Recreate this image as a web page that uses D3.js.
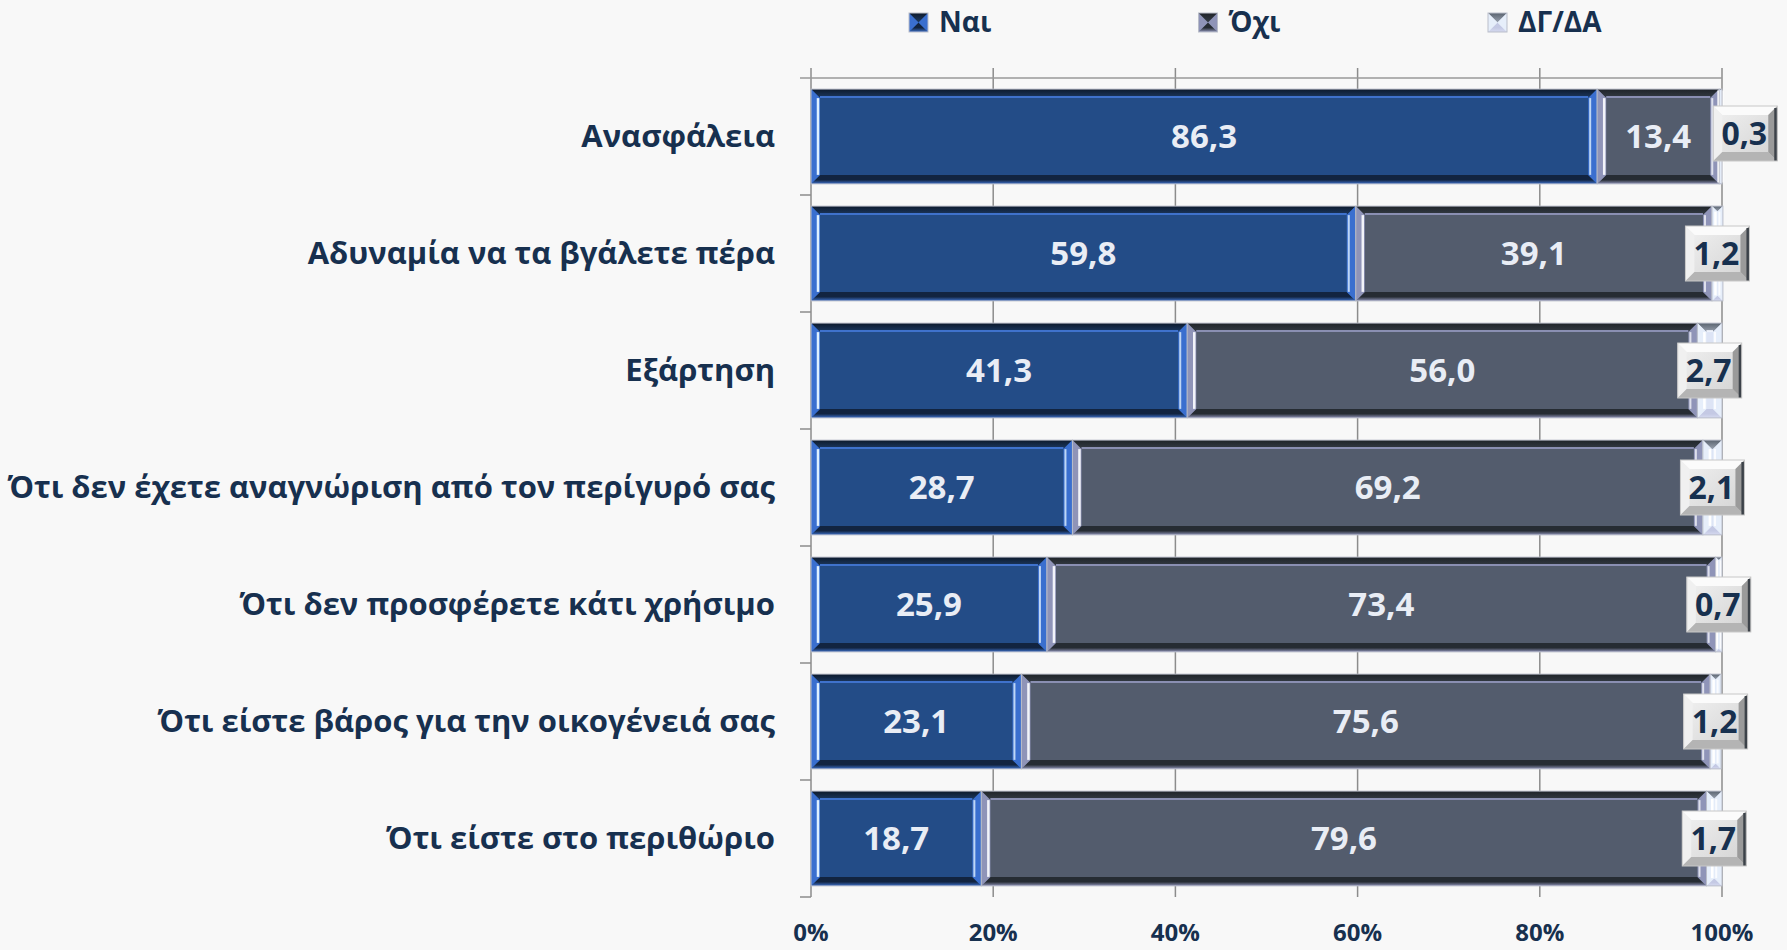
<!DOCTYPE html>
<html>
<head>
<meta charset="utf-8">
<script src="https://cdnjs.cloudflare.com/ajax/libs/d3/7.8.5/d3.min.js"></script>
<style>
  body { margin: 0; background: #f8f8f8; }
  svg { display: block; font-family: "Open Sans", "Noto Sans", sans-serif; font-weight: bold; }
</style>
</head>
<body>
<div id="chart"></div>
<script>
// data
var categories = [
    "Ανασφάλεια",
    "Αδυναμία να τα βγάλετε πέρα",
    "Εξάρτηση",
    "Ότι δεν έχετε αναγνώριση από τον περίγυρό σας",
    "Ότι δεν προσφέρετε κάτι χρήσιμο",
    "Ότι είστε βάρος για την οικογένειά σας",
    "Ότι είστε στο περιθώριο"
];
var nai = [86.3, 59.8, 41.3, 28.7, 25.9, 23.1, 18.7];
var oxi = [13.4, 39.1, 56.0, 69.2, 73.4, 75.6, 79.6];
var dgda = [0.3, 1.2, 2.7, 2.1, 0.7, 1.2, 1.7];
var seriesNames = ["Ναι", "Όχι", "ΔΓ/ΔΑ"];
var xTicks = [0, 20, 40, 60, 80, 100];

var W = 1787, H = 950,
    plotL = 811, plotR = 1722, plotT = 78, plotB = 897,
    ink = "#17304f";

var pal = {
    "Ναι":   { fill: "#234c87", topA: "#0d1a2c", topB: "#1d3a63", line: "#3f72cc", botA: "#122440", botB: "#3d70c9", side: "#3a6fcf", hi: "#dff0ff" },
    "Όχι":   { fill: "#535c6d", topA: "#1f2429", topB: "#353c45", line: "#8a8fb2", botA: "#262c33", botB: "#8e93b8", side: "#8f94b8", hi: "#f2f4fa" },
    "ΔΓ/ΔΑ": { fill: "#dde4f5", topA: "#5a6470", topB: "#9aa2b0", line: "#eef2fb", botA: "#c4c9e4", botB: "#d6daf0", side: "#e6eefa", hi: "#ffffff" }
};

var svg = d3.select("#chart").append("svg").attr("width", W).attr("height", H);
svg.append("rect").attr("width", W).attr("height", H).attr("fill", "#f8f8f8");
var defs = svg.append("defs");

seriesNames.forEach(function(s, i) {
    var p = pal[s];
    var gt = defs.append("linearGradient").attr("id", "gt" + i).attr("x1", 0).attr("y1", 0).attr("x2", 0).attr("y2", 1);
    gt.append("stop").attr("offset", "0%").attr("stop-color", p.topA);
    gt.append("stop").attr("offset", "100%").attr("stop-color", p.topB);
    var gb = defs.append("linearGradient").attr("id", "gb" + i).attr("x1", 0).attr("y1", 0).attr("x2", 0).attr("y2", 1);
    gb.append("stop").attr("offset", "0%").attr("stop-color", p.botA);
    gb.append("stop").attr("offset", "55%").attr("stop-color", p.botA);
    gb.append("stop").attr("offset", "100%").attr("stop-color", p.botB);
});
var gbox = defs.append("linearGradient").attr("id", "gbox").attr("x1", 0).attr("y1", 0).attr("x2", 1).attr("y2", 1);
gbox.append("stop").attr("offset", "0%").attr("stop-color", "#f2f2f2");
gbox.append("stop").attr("offset", "100%").attr("stop-color", "#d2d2d2");

var x = d3.scaleLinear().domain([0, 100]).range([plotL, plotR]);
var y = d3.scaleBand().domain(categories).range([plotT, plotB]).paddingInner(0.19).paddingOuter(0.095);
var yb = d3.scaleBand().domain(categories).range([plotT, plotB]);

// vertical gridlines
svg.append("g").selectAll("line").data(xTicks).enter().append("line")
    .attr("x1", function(d) { return x(d); }).attr("x2", function(d) { return x(d); })
    .attr("y1", plotT - 10).attr("y2", plotB)
    .attr("stroke", "#8c8c8c").attr("stroke-width", 1.5);
// top line
svg.append("line").attr("x1", plotL - 11).attr("x2", plotR).attr("y1", plotT).attr("y2", plotT)
    .attr("stroke", "#9a9a9a").attr("stroke-width", 1.5);
// category ticks on the left axis
svg.append("g").selectAll("line").data(categories).enter().append("line")
    .attr("x1", plotL - 11).attr("x2", plotL)
    .attr("y1", function(d) { return yb(d) + yb.bandwidth(); })
    .attr("y2", function(d) { return yb(d) + yb.bandwidth(); })
    .attr("stroke", "#8c8c8c").attr("stroke-width", 1.5);

function bevel(g, x0, y0, w, h, p, i, b) {
    var x1 = x0 + w, y1 = y0 + h;
    b = Math.min(b, w / 2);
    g.append("rect").attr("x", x0).attr("y", y0).attr("width", w).attr("height", h).attr("fill", p.fill);
    g.append("polygon").attr("points", [[x0, y0], [x1, y0], [x1 - b, y0 + b], [x0 + b, y0 + b]].join(" "))
        .attr("fill", "url(#gt" + i + ")");
    g.append("polygon").attr("points", [[x0, y1], [x1, y1], [x1 - b, y1 - b], [x0 + b, y1 - b]].join(" "))
        .attr("fill", "url(#gb" + i + ")");
    g.append("polygon").attr("points", [[x0, y0], [x0 + b, y0 + b], [x0 + b, y1 - b], [x0, y1]].join(" "))
        .attr("fill", p.side);
    g.append("polygon").attr("points", [[x1, y0], [x1 - b, y0 + b], [x1 - b, y1 - b], [x1, y1]].join(" "))
        .attr("fill", p.side);
    if (w > 2 * b + 2) {
        g.append("line").attr("x1", x0 + b).attr("x2", x1 - b).attr("y1", y0 + b - 1).attr("y2", y0 + b - 1)
            .attr("stroke", p.line).attr("stroke-width", 2);
    }
    g.append("line").attr("x1", x0 + b - 2).attr("x2", x0 + b - 2).attr("y1", y0 + b).attr("y2", y1 - b)
        .attr("stroke", p.hi).attr("stroke-width", 2.5);
    g.append("line").attr("x1", x1 - b + 2).attr("x2", x1 - b + 2).attr("y1", y0 + b).attr("y2", y1 - b)
        .attr("stroke", p.hi).attr("stroke-width", 2).attr("opacity", 0.8);
    g.append("rect").attr("x", x0).attr("y", y0).attr("width", w).attr("height", h)
        .attr("fill", "none").attr("stroke", "#b9bdc9").attr("stroke-width", 1);
}

var fmt = function(v) { return d3.format(".1f")(v).replace(".", ","); };
var series = [nai, oxi, dgda];

var bars = svg.append("g");
categories.forEach(function(c, r) {
    var start = 0;
    series.forEach(function(vals, i) {
        var v = vals[r];
        var x0 = x(start), w = x(start + v) - x(start);
        bevel(bars.append("g"), x0, y(c), w, y.bandwidth(), pal[seriesNames[i]], i, 9);
        start += v;
    });
});

// value labels inside Ναι / Όχι
var labels = svg.append("g").attr("font-size", 33).attr("fill", "#e9edf5").attr("text-anchor", "middle");
categories.forEach(function(c, r) {
    var start = 0;
    [nai, oxi].forEach(function(vals) {
        var v = vals[r];
        labels.append("text")
            .attr("x", x(start + v / 2))
            .attr("y", y(c) + y.bandwidth() / 2)
            .attr("dy", "0.35em")
            .text(fmt(v));
        start += v;
    });
});

// boxed labels for ΔΓ/ΔΑ
var bw = 64, bh = 55, bb = 9;
categories.forEach(function(c, r) {
    var s = nai[r] + oxi[r], v = dgda[r];
    var cx = x(s + v / 2);
    if (v < 0.5) cx = x(s) - 6 + bw / 2;
    var cy = yb(c) + yb.bandwidth() / 2 - (r === 0 ? 3 : 0);
    var g = svg.append("g");
    var x0 = cx - bw / 2, y0 = cy - bh / 2, x1 = x0 + bw, y1 = y0 + bh;
    g.append("rect").attr("x", x0).attr("y", y0).attr("width", bw).attr("height", bh).attr("fill", "url(#gbox)");
    g.append("polygon").attr("points", [[x0, y0], [x1, y0], [x1 - bb, y0 + bb], [x0 + bb, y0 + bb]].join(" ")).attr("fill", "#fbfbfb");
    g.append("polygon").attr("points", [[x0, y0], [x0 + bb, y0 + bb], [x0 + bb, y1 - bb], [x0, y1]].join(" ")).attr("fill", "#f0f0f0");
    g.append("polygon").attr("points", [[x0, y1], [x1, y1], [x1 - bb, y1 - bb], [x0 + bb, y1 - bb]].join(" ")).attr("fill", "#b4b4b4");
    g.append("polygon").attr("points", [[x1, y0], [x1 - bb, y0 + bb], [x1 - bb, y1 - bb], [x1, y1]].join(" ")).attr("fill", "#9a9a9a");
    g.append("rect").attr("x", x1 - 3).attr("y", y0 + 2).attr("width", 3).attr("height", bh - 2).attr("fill", "#3c4249");
    g.append("rect").attr("x", x0).attr("y", y0).attr("width", bw).attr("height", bh)
        .attr("fill", "none").attr("stroke", "#c8c8c8").attr("stroke-width", 1);
    g.append("text").attr("x", cx - 1).attr("y", cy).attr("dy", "0.35em")
        .attr("text-anchor", "middle").attr("font-size", 32).attr("fill", ink).text(fmt(v));
});

// category labels
svg.append("g").selectAll("text").data(categories).enter().append("text")
    .attr("x", 775)
    .attr("y", function(d) { return yb(d) + yb.bandwidth() / 2; })
    .attr("dy", "0.35em")
    .attr("text-anchor", "end")
    .attr("font-size", 31)
    .attr("fill", ink)
    .text(function(d) { return d; });

// x tick labels
svg.append("g").selectAll("text").data(xTicks).enter().append("text")
    .attr("x", function(d) { return x(d); })
    .attr("y", 933)
    .attr("dy", "0.35em")
    .attr("text-anchor", "middle")
    .attr("font-size", 24)
    .attr("fill", ink)
    .text(function(d) { return d + "%"; });

// legend
var lx = d3.scalePoint().domain(seriesNames).range([909, 1488]);
var legend = svg.append("g").selectAll("g").data(seriesNames).enter().append("g");
legend.each(function(s, i) {
    var g = d3.select(this);
    bevel(g, lx(s), 13, 19, 19, pal[s], i, 9.5);
    g.append("text").attr("x", lx(s) + 30).attr("y", 22).attr("dy", "0.35em")
        .attr("font-size", 28).attr("fill", ink).text(s);
});
</script>
</body>
</html>
